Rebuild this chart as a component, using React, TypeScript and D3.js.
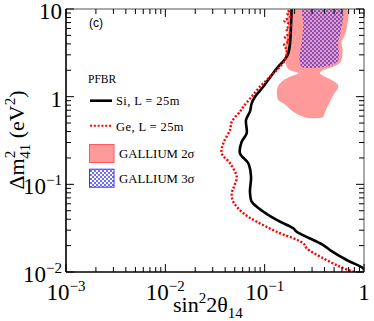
import React from "react";
import * as d3 from "d3";

// PFBR Si detector, L = 25m (sin^2 2theta14, dm^2_41 in eV^2)
const siSin2 = [1.0, 0.984, 0.67, 0.455, 0.389, 0.21, 0.194, 0.132, 0.0832, 0.074, 0.0711, 0.0729, 0.0684, 0.0564, 0.0587, 0.0659, 0.0649, 0.0711, 0.074, 0.08, 0.0968, 0.118, 0.137, 0.158, 0.173, 0.18, 0.184, 0.187];
const siDm2 = [0.0104, 0.011, 0.0137, 0.0178, 0.0203, 0.0288, 0.0315, 0.0392, 0.0556, 0.0634, 0.0824, 0.122, 0.174, 0.226, 0.306, 0.382, 0.542, 0.674, 0.84, 1.0, 1.3, 1.77, 2.2, 2.62, 3.13, 4.06, 6.28, 10];

// PFBR Ge detector, L = 25m
const geSin2 = [0.95, 0.78, 0.573, 0.389, 0.265, 0.245, 0.132, 0.0832, 0.061, 0.0483, 0.0466, 0.0491, 0.0523, 0.0448, 0.0369, 0.0383, 0.0448, 0.0466, 0.0564, 0.061, 0.074, 0.0898, 0.109, 0.132, 0.16, 0.167, 0.157, 0.176, 0.16, 0.18, 0.164, 0.184, 0.158, 0.18, 0.168, 0.186];
const geDm2 = [0.0098, 0.0101, 0.0115, 0.01434, 0.01864, 0.02126, 0.0288, 0.0375, 0.0468, 0.0634, 0.0791, 0.094, 0.122, 0.174, 0.226, 0.294, 0.417, 0.518, 0.674, 0.768, 1.0, 1.3, 1.62, 2.01, 2.62, 3.41, 3.88, 4.32, 4.79, 5.32, 5.91, 6.57, 7.3, 8.1, 9.0, 10];

// GALLIUM anomaly, 2 sigma allowed region
const ga2Sin2 = [0.18, 0.67, 0.679, 0.63, 0.596, 0.61, 0.583, 0.491, 0.389, 0.36, 0.437, 0.531, 0.551, 0.491, 0.455, 0.405, 0.389, 0.309, 0.245, 0.194, 0.154, 0.137, 0.134, 0.148, 0.18, 0.218, 0.18, 0.167, 0.164, 0.173];
const ga2Dm2 = [10, 10, 6.57, 4.83, 4.24, 3.26, 2.51, 2.2, 2.01, 1.85, 1.62, 1.42, 1.3, 1.045, 0.876, 0.674, 0.591, 0.567, 0.591, 0.674, 0.84, 0.916, 1.246, 1.48, 1.69, 1.85, 2.01, 2.2, 4.24, 5.51];

// GALLIUM anomaly, 3 sigma allowed region
const ga3Sin2 = [0.245, 0.596, 0.583, 0.551, 0.551, 0.473, 0.334, 0.236, 0.223, 0.236, 0.245];
const ga3Dm2 = [10, 10, 5.51, 4.24, 2.62, 2.3, 2.14, 2.2, 2.74, 4.24, 6.57];

const xDecades = [-3, -2, -1, 0];
const yDecades = [-2, -1, 0, 1];

const legendLines = [
  { label: "Si, L = 25m", color: "#000", dash: null },
  { label: "Ge, L = 25m", color: "#ff0000", dash: "2 1.8" },
];
const legendBoxes = ["GALLIUM 2σ", "GALLIUM 3σ"];

const W = 374;
const H = 321;
const left = 66, right = 364, top = 9, bottom = 272;
const serif = "'Liberation Serif', 'Times New Roman', serif";

function zip(xs: number[], ys: number[]): [number, number][] {
  return xs.map((x, i) => [x, ys[i]]);
}

function PowLabel({ e, x, y, anchor }: { e: number; x: number; y: number; anchor: string }) {
  if (e === 0) return <text x={x} y={y} textAnchor={anchor} fontSize={23} fontFamily={serif}>1</text>;
  if (e === 1) return <text x={x} y={y} textAnchor={anchor} fontSize={23} fontFamily={serif}>10</text>;
  return (
    <text x={x} y={y} textAnchor={anchor} fontSize={23} fontFamily={serif}>
      10<tspan dy={-9.5} fontSize={15}>{"−" + Math.abs(e)}</tspan>
    </text>
  );
}

export default function App() {
  const x = d3.scaleLog().domain([1e-3, 1]).range([left, right]);
  const y = d3.scaleLog().domain([1e-2, 10]).range([bottom, top]);

  const line = d3.line<[number, number]>().x(d => x(d[0])).y(d => y(d[1])).curve(d3.curveCatmullRom.alpha(0.5));
  const blob = d3.line<[number, number]>().x(d => x(d[0])).y(d => y(d[1])).curve(d3.curveCatmullRomClosed.alpha(0.5));

  const xMinor: number[] = [];
  xDecades.slice(0, -1).forEach(e => { for (let k = 2; k <= 9; k++) xMinor.push(k * Math.pow(10, e)); });
  const yMinor: number[] = [];
  yDecades.slice(0, -1).forEach(e => { for (let k = 2; k <= 9; k++) yMinor.push(k * Math.pow(10, e)); });

  return (
    <svg width={W} height={H} style={{ position: "absolute", left: 0, top: 0, background: "#fff" }}>
      <defs>
        <clipPath id="plotArea">
          <rect x={left} y={top} width={right - left} height={bottom - top} />
        </clipPath>
        <pattern id="checker" width={4} height={4} patternUnits="userSpaceOnUse">
          <rect x={0} y={0} width={2} height={2} fill="#3535ff" fillOpacity={0.72} />
          <rect x={2} y={2} width={2} height={2} fill="#3535ff" fillOpacity={0.72} />
        </pattern>
      </defs>

      <g clipPath="url(#plotArea)">
        <path d={blob(zip(ga2Sin2, ga2Dm2)) || ""} fill="#ff9a9a" />
        <path d={blob(zip(ga3Sin2, ga3Dm2)) || ""} fill="url(#checker)" />
        <path d={line(zip(siSin2, siDm2)) || ""} fill="none" stroke="#000" strokeWidth={2.6} strokeLinejoin="round" />
        <path d={line(zip(geSin2, geDm2)) || ""} fill="none" stroke="#ff0000" strokeWidth={2.4} strokeDasharray="2 1.8" />
      </g>

      {/* frame */}
      <line x1={left} x2={right} y1={top} y2={top} stroke="#555" strokeWidth={1} />
      <line x1={right} x2={right} y1={top} y2={bottom} stroke="#555" strokeWidth={1} />
      <line x1={left} x2={left} y1={top} y2={bottom} stroke="#000" strokeWidth={1.6} />
      <line x1={left} x2={right} y1={bottom} y2={bottom} stroke="#000" strokeWidth={1.6} />

      {/* ticks */}
      {xDecades.map(e => (
        <g key={"xM" + e}>
          <line x1={x(Math.pow(10, e))} x2={x(Math.pow(10, e))} y1={bottom} y2={bottom - 8} stroke="#000" />
          <line x1={x(Math.pow(10, e))} x2={x(Math.pow(10, e))} y1={top} y2={top + 8} stroke="#000" />
        </g>
      ))}
      {xMinor.map(v => (
        <g key={"xm" + v}>
          <line x1={x(v)} x2={x(v)} y1={bottom} y2={bottom - 5} stroke="#000" />
          <line x1={x(v)} x2={x(v)} y1={top} y2={top + 5} stroke="#000" />
        </g>
      ))}
      {yDecades.map(e => (
        <g key={"yM" + e}>
          <line x1={left} x2={left + 8} y1={y(Math.pow(10, e))} y2={y(Math.pow(10, e))} stroke="#000" />
          <line x1={right} x2={right - 8} y1={y(Math.pow(10, e))} y2={y(Math.pow(10, e))} stroke="#000" />
        </g>
      ))}
      {yMinor.map(v => (
        <g key={"ym" + v}>
          <line x1={left} x2={left + 5} y1={y(v)} y2={y(v)} stroke="#000" />
          <line x1={right} x2={right - 5} y1={y(v)} y2={y(v)} stroke="#000" />
        </g>
      ))}

      {/* tick labels */}
      {xDecades.map(e => (
        <PowLabel key={"xl" + e} e={e} x={x(Math.pow(10, e))} y={300} anchor="middle" />
      ))}
      {yDecades.map(e => (
        <PowLabel key={"yl" + e} e={e} x={62} y={y(Math.pow(10, e)) + 10} anchor="end" />
      ))}

      {/* axis titles */}
      <text x={173} y={312} fontSize={22} fontFamily={serif}>
        sin<tspan dy={-9} fontSize={15}>2</tspan><tspan dy={9}>2θ</tspan><tspan dy={6} fontSize={15}>14</tspan>
      </text>
      <text transform="translate(24,140) rotate(-90)" textAnchor="middle" fontSize={22} fontFamily={serif}>
        Δm<tspan dy={-9} fontSize={15}>2</tspan><tspan dx={-8} dy={15} fontSize={15}>41</tspan><tspan dy={-6}> (eV</tspan><tspan dy={-9} fontSize={15}>2</tspan><tspan dy={9}>)</tspan>
      </text>

      {/* panel label and legend */}
      <text x={89} y={27} fontSize={12} fontFamily="'Liberation Sans', Arial, sans-serif">(c)</text>
      <text x={88} y={82.5} fontSize={11.5} fontFamily={serif}>PFBR</text>
      {legendLines.map((d, i) => (
        <g key={d.label}>
          <line x1={90} x2={112} y1={100.7 + i * 25} y2={100.7 + i * 25} stroke={d.color} strokeWidth={d.dash ? 2 : 2.6} strokeDasharray={d.dash || undefined} />
          <text x={116} y={105 + i * 25.5} fontSize={12.5} letterSpacing={0.4} fontFamily={serif}>{d.label}</text>
        </g>
      ))}
      {legendBoxes.map((label, i) => (
        <g key={label}>
          <rect x={89.5} y={144.5 + i * 24.7} width={24.5} height={18} fill={i === 0 ? "#ff9a9a" : "url(#checker)"} stroke={i === 0 ? "#ff5a5a" : "#3535ff"} strokeWidth={1} />
          <text x={119} y={158.3 + i * 24.7} fontSize={12.8} fontFamily={serif}>{label}</text>
        </g>
      ))}
    </svg>
  );
}
